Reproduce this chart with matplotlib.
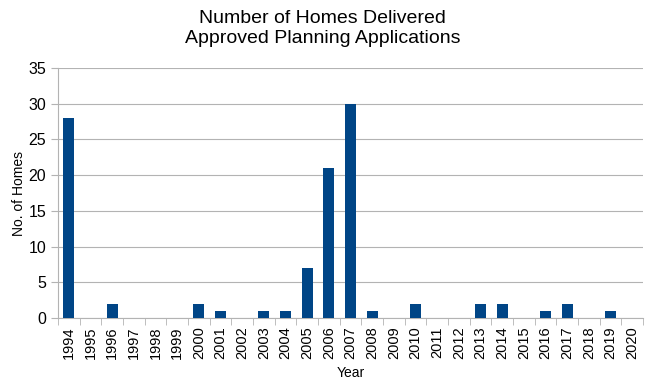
import matplotlib.pyplot as plt
import numpy as np

plt.rcParams['font.family'] = ['Liberation Sans', 'DejaVu Sans']

# Datos
years = [str(y) for y in range(1994, 2021)]
homes = [28, 0, 2, 0, 0, 0, 2, 1, 0, 1, 1, 7, 21, 30, 1, 0, 2, 0, 0, 2, 2, 0, 1, 2, 0, 1, 0]

fig = plt.figure(figsize=(6.45, 3.81), dpi=100)
ax = fig.add_axes([58 / 645, 1 - 318 / 381, 585 / 645, 250 / 381])

x = np.arange(len(years))
ax.bar(x, homes, width=0.5, color='#004586', zorder=3)

ax.set_xlim(-0.5, len(years) - 0.5)
ax.set_ylim(0, 35)
ax.set_yticks(range(0, 36, 5))
ax.yaxis.grid(True, color='#b3b3b3', linewidth=0.8, zorder=0)

ax.set_xticks(x)
ax.set_xticklabels(years, rotation=90, fontsize=10.5)
ax.set_xticks(np.arange(-0.5, len(years), 1), minor=True)
ax.tick_params(axis='x', which='major', length=0, pad=6)
ax.tick_params(axis='x', which='minor', length=5, color='#b3b3b3')
ax.tick_params(axis='y', length=5, color='#b3b3b3', labelsize=11.5)

for s in ['top', 'right']:
    ax.spines[s].set_visible(False)
for s in ['left', 'bottom']:
    ax.spines[s].set_color('#b3b3b3')

ax.set_xlabel('Year', fontsize=10, labelpad=5)
ax.set_ylabel('No. of Homes', fontsize=10, labelpad=2)
fig.suptitle('Number of Homes Delivered\nApproved Planning Applications', fontsize=14, y=0.975, linespacing=1.3)

fig.savefig('out.png', dpi=100)
